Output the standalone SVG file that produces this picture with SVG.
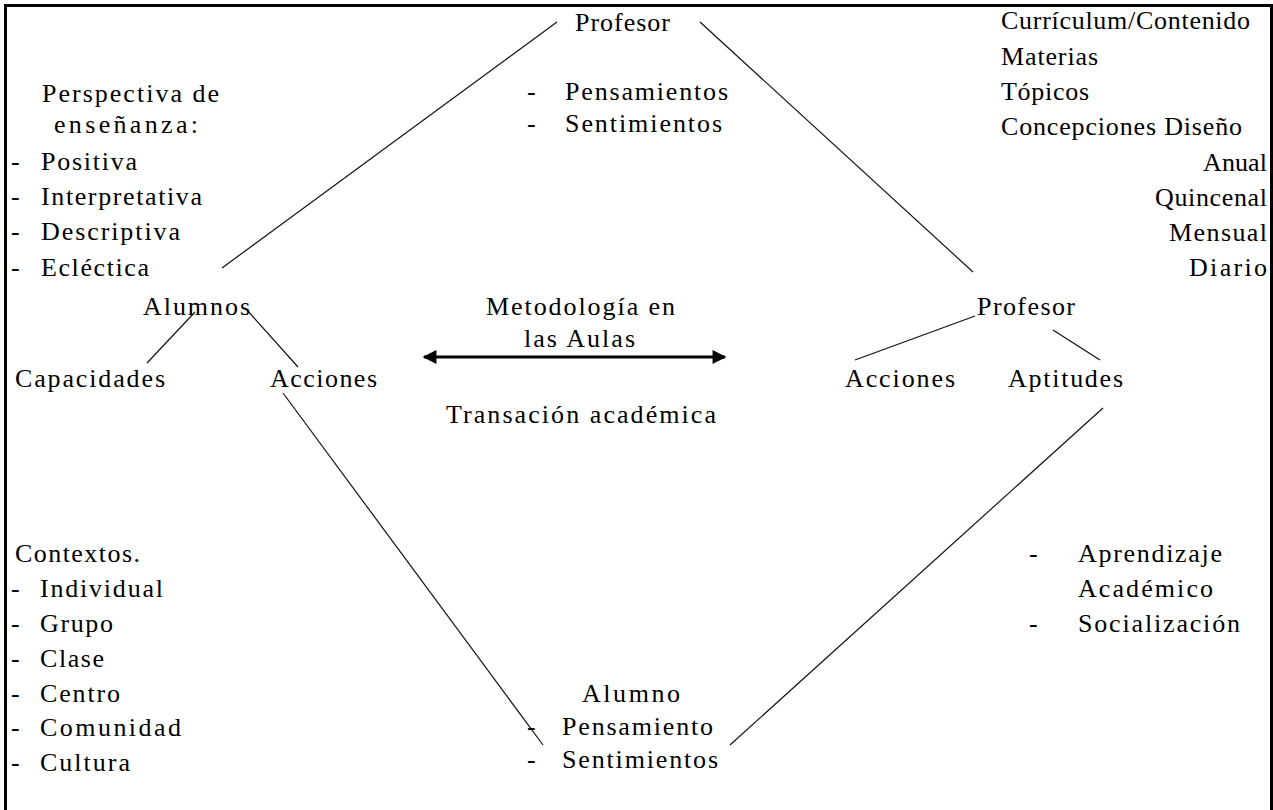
<svg xmlns="http://www.w3.org/2000/svg" width="1273" height="810" viewBox="0 0 1273 810">
  <style>
    text { font-family: "Liberation Serif", "Times New Roman", serif; font-size: 26px; fill: #000; }
    .end { text-anchor: end; }
    .link { stroke: #111; stroke-width: 1.2; fill: none; }
    .frame { stroke: #000; stroke-width: 3; fill: none; }
  </style>
  <defs>
    <marker id="head" viewBox="0 0 10 10" refX="9" refY="5" markerWidth="5.5" markerHeight="4.6" orient="auto-start-reverse" markerUnits="strokeWidth">
      <path d="M0,0 L10,5 L0,10 z" fill="#000"/>
    </marker>
  </defs>

  <rect width="1273" height="810" fill="#fff"/>
  <!-- open frame: left, top and right sides -->
  <path class="frame" d="M5.5,810 V5.5 H1271.5 V810"/>

  <g id="connectors">
    <line class="link" x1="557" y1="22" x2="222" y2="268"/>
    <line class="link" x1="700" y1="22" x2="973" y2="272"/>
    <line class="link" x1="195" y1="312" x2="147" y2="363"/>
    <line class="link" x1="247" y1="310" x2="298" y2="367"/>
    <line class="link" x1="283" y1="393" x2="543" y2="745"/>
    <line class="link" x1="975" y1="316" x2="855" y2="360"/>
    <line class="link" x1="1053" y1="330" x2="1100" y2="360"/>
    <line class="link" x1="1103" y1="408" x2="730" y2="745"/>
    <line x1="424" y1="357" x2="725" y2="357" stroke="#000" stroke-width="3" marker-start="url(#head)" marker-end="url(#head)"/>
  </g>

  <g id="profesor-top">
    <text x="575" y="31" textLength="95" lengthAdjust="spacing">Profesor</text>
    <text x="527" y="100">-</text>
    <text x="565" y="100" textLength="163" lengthAdjust="spacing">Pensamientos</text>
    <text x="527" y="132">-</text>
    <text x="565" y="132" textLength="157" lengthAdjust="spacing">Sentimientos</text>
  </g>

  <g id="perspectiva">
    <text x="42" y="102" textLength="177" lengthAdjust="spacing">Perspectiva de</text>
    <text x="54" y="133" textLength="144" lengthAdjust="spacing">enseñanza:</text>
    <text x="11" y="170">-</text>
    <text x="41" y="170" textLength="96" lengthAdjust="spacing">Positiva</text>
    <text x="11" y="205">-</text>
    <text x="41" y="205" textLength="161" lengthAdjust="spacing">Interpretativa</text>
    <text x="11" y="240">-</text>
    <text x="41" y="240" textLength="139" lengthAdjust="spacing">Descriptiva</text>
    <text x="11" y="276">-</text>
    <text x="41" y="276" textLength="108" lengthAdjust="spacing">Ecléctica</text>
  </g>

  <g id="curriculum">
    <text x="1001" y="29" textLength="249" lengthAdjust="spacing">Currículum/Contenido</text>
    <text x="1001" y="65" textLength="97" lengthAdjust="spacing">Materias</text>
    <text x="1001" y="100" textLength="88" lengthAdjust="spacing">Tópicos</text>
    <text x="1001" y="135" textLength="241" lengthAdjust="spacing">Concepciones Diseño</text>
    <text class="end" x="1267" y="171" textLength="64" lengthAdjust="spacing">Anual</text>
    <text class="end" x="1267" y="206" textLength="112" lengthAdjust="spacing">Quincenal</text>
    <text class="end" x="1267" y="241" textLength="98" lengthAdjust="spacing">Mensual</text>
    <text class="end" x="1267" y="276" textLength="78" lengthAdjust="spacing">Diario</text>
  </g>

  <g id="alumnos">
    <text x="143" y="315" textLength="107" lengthAdjust="spacing">Alumnos</text>
    <text x="15" y="387" textLength="150" lengthAdjust="spacing">Capacidades</text>
    <text x="270" y="387" textLength="107" lengthAdjust="spacing">Acciones</text>
  </g>

  <g id="metodologia">
    <text x="486" y="315" textLength="189" lengthAdjust="spacing">Metodología en</text>
    <text x="524" y="347" textLength="111" lengthAdjust="spacing">las Aulas</text>
    <text x="446" y="423" textLength="270" lengthAdjust="spacing">Transación académica</text>
  </g>

  <g id="profesor-right">
    <text x="977" y="315" textLength="98" lengthAdjust="spacing">Profesor</text>
    <text x="845" y="387" textLength="110" lengthAdjust="spacing">Acciones</text>
    <text x="1008" y="387" textLength="115" lengthAdjust="spacing">Aptitudes</text>
  </g>

  <g id="contextos">
    <text x="15" y="562" textLength="125" lengthAdjust="spacing">Contextos.</text>
    <text x="11" y="597">-</text>
    <text x="40" y="597" textLength="123" lengthAdjust="spacing">Individual</text>
    <text x="11" y="632">-</text>
    <text x="40" y="632" textLength="73" lengthAdjust="spacing">Grupo</text>
    <text x="11" y="667">-</text>
    <text x="40" y="667" textLength="64" lengthAdjust="spacing">Clase</text>
    <text x="11" y="702">-</text>
    <text x="40" y="702" textLength="80" lengthAdjust="spacing">Centro</text>
    <text x="11" y="736">-</text>
    <text x="40" y="736" textLength="141" lengthAdjust="spacing">Comunidad</text>
    <text x="11" y="771">-</text>
    <text x="40" y="771" textLength="90" lengthAdjust="spacing">Cultura</text>
  </g>

  <g id="resultados">
    <text x="1029" y="562">-</text>
    <text x="1078" y="562" textLength="144" lengthAdjust="spacing">Aprendizaje</text>
    <text x="1078" y="597" textLength="135" lengthAdjust="spacing">Académico</text>
    <text x="1029" y="632">-</text>
    <text x="1078" y="632" textLength="162" lengthAdjust="spacing">Socialización</text>
  </g>

  <g id="alumno-bottom">
    <text x="582" y="702" textLength="98" lengthAdjust="spacing">Alumno</text>
    <text x="527" y="735">-</text>
    <text x="562" y="735" textLength="151" lengthAdjust="spacing">Pensamiento</text>
    <text x="527" y="768">-</text>
    <text x="562" y="768" textLength="156" lengthAdjust="spacing">Sentimientos</text>
  </g>
</svg>
